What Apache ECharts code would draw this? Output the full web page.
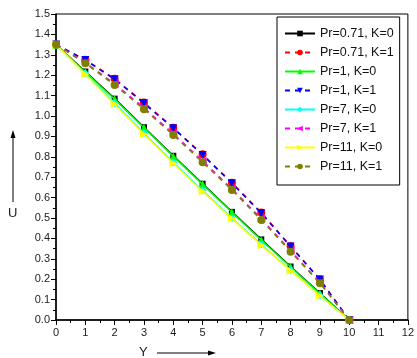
<!DOCTYPE html>
<html><head><meta charset="utf-8">
<script src="https://cdn.jsdelivr.net/npm/echarts@6/dist/echarts.min.js"></script>
<style>html,body{margin:0;padding:0;background:#fff}#c{width:417px;height:358px}</style>
</head><body><div id="c"></div>
<script>
const yValues = [0,1,2,3,4,5,6,7,8,9,10];
const names = ["Pr=0.71, K=0","Pr=0.71, K=1","Pr=1, K=0","Pr=1, K=1","Pr=7, K=0","Pr=7, K=1","Pr=11, K=0","Pr=11, K=1"];
const pr071k0 = [1.35,1.218,1.085,0.945,0.805,0.668,0.530,0.395,0.262,0.132,0];
const pr071k1 = [1.35,1.276,1.183,1.066,0.943,0.812,0.673,0.527,0.363,0.200,0];
const pr1k0   = [1.35,1.216,1.082,0.942,0.802,0.665,0.528,0.392,0.260,0.130,0];
const pr1k1   = [1.35,1.274,1.180,1.062,0.940,0.809,0.670,0.523,0.360,0.198,0];
const pr7k0   = [1.35,1.208,1.063,0.915,0.772,0.635,0.500,0.370,0.244,0.120,0];
const pr7k1   = [1.35,1.262,1.158,1.040,0.913,0.780,0.643,0.497,0.340,0.183,0];
const pr11k0  = [1.35,1.205,1.059,0.910,0.768,0.630,0.497,0.367,0.242,0.119,0];
const pr11k1  = [1.35,1.258,1.152,1.033,0.907,0.773,0.637,0.490,0.335,0.180,0];
const allData = [pr071k0,pr071k1,pr1k0,pr1k1,pr7k0,pr7k1,pr11k0,pr11k1];
const colors = ['#000000','#ff0000','#00ff00','#0000ff','#00ffff','#ff00ff','#ffff00','#808000'];
const symbols = ['rect','circle','triangle','triangle','diamond','triangle','triangle','circle'];
const rotates = [0,0,0,180,0,90,-90,0];
const dashed = [false,true,false,true,false,true,false,true];

const chart = echarts.init(document.getElementById('c'));
const font = 'Liberation Sans, Arial, sans-serif';
const series = names.map((n,i)=>({
  name:n, type:'line',
  data: yValues.map((x,j)=>[x, allData[i][j]]),
  symbol: symbols[i], symbolRotate: rotates[i], symbolSize: symbols[i]==='rect'?6:8,
  showAllSymbol:true,
  itemStyle:{color:colors[i]},
  lineStyle:{color:colors[i], width:1.5, type: dashed[i]?[5,5]:'solid'},
  animation:false, z: 2+i
}));
chart.setOption({
  animation:false,
  grid:{left:56,right:9,top:14,bottom:38,show:true,borderColor:'#000',borderWidth:1,backgroundColor:'transparent'},
  legend:{
    data:names, orient:'vertical', left:277, top:17, width:128,
    itemWidth:30, itemHeight:7, itemGap:6,
    borderColor:'#000', borderWidth:1, padding:[10,6,12,7],
    backgroundColor:'#fff',
    textStyle:{fontFamily:font,fontSize:12.5,color:'#111'}
  },
  xAxis:{type:'value',min:0,max:12,interval:1,
    axisLine:{lineStyle:{color:'#000',width:1.5}},
    axisTick:{inside:false,length:5,lineStyle:{color:'#000'}},
    minorTick:{show:true,splitNumber:2,length:3,lineStyle:{color:'#000'}},
    splitLine:{show:false},
    axisLabel:{fontFamily:font,fontSize:11,color:'#222',margin:7}
  },
  yAxis:{type:'value',min:0,max:1.5,interval:0.1,
    axisLine:{show:true,lineStyle:{color:'#000',width:1.5}},
    axisTick:{show:true,inside:false,length:5,lineStyle:{color:'#000'}},
    minorTick:{show:true,splitNumber:2,length:3,lineStyle:{color:'#000'}},
    splitLine:{show:false},
    axisLabel:{fontFamily:font,fontSize:11,color:'#222',margin:6,formatter:v=>v.toFixed(1)}
  },
  series:series,
  graphic:[
    {type:'text',left:8,top:207,style:{text:'U',font:'13px '+font,fill:'#222'}},
    {type:'line',shape:{x1:13,y1:202,x2:13,y2:136},style:{stroke:'#000',lineWidth:1}},
    {type:'polygon',shape:{points:[[13,130],[10.5,138],[15.5,138]]},style:{fill:'#000'}},
    {type:'text',left:139,top:346,style:{text:'Y',font:'13px '+font,fill:'#222'}},
    {type:'line',shape:{x1:157,y1:353,x2:208,y2:353},style:{stroke:'#000',lineWidth:1}},
    {type:'polygon',shape:{points:[[216,353],[208,350.5],[208,355.5]]},style:{fill:'#000'}}
  ]
});
</script></body></html>
